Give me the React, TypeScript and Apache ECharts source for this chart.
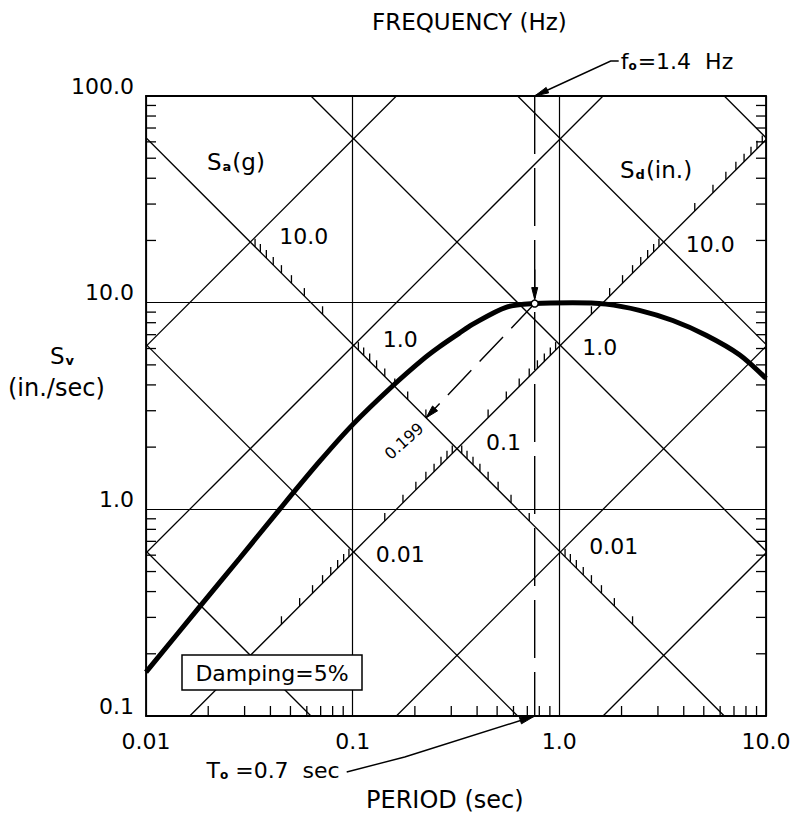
import React, { useEffect, useRef } from "react";
import * as echarts from "echarts";

// ---- axes ----
const T_MIN = 0.01;
const T_MAX = 10;
const SV_MIN = 0.1;
const SV_MAX = 100;
const PERIOD_TICKS = [0.01, 0.1, 1, 10];
const PERIOD_LABELS = ["0.01", "0.1", "1.0", "10.0"];
const SV_TICKS = [0.1, 1, 10, 100];
const SV_LABELS = ["0.1", "1.0", "10.0", "100.0"];
const FRAME_T_DECADES = [0.01, 0.1, 1];
const FRAME_SV_DECADES = [0.1, 1, 10];
const MINOR = [2, 3, 4, 5, 6, 7, 8, 9];

// ---- response spectrum (period sec, Sv in./sec) ----
const CURVE_T = [0.01, 0.0182, 0.0284, 0.0443, 0.069, 0.1, 0.156, 0.218, 0.262, 0.327, 0.38, 0.552, 0.76, 1.16, 1.68, 2.44, 3.54, 5.13, 7.44, 10];
const CURVE_SV = [0.163, 0.338, 0.58, 1.0, 1.7, 2.57, 3.95, 5.3, 6.1, 7.1, 7.85, 9.5, 9.9, 10.0, 9.84, 9.18, 8.2, 6.96, 5.6, 4.3];

// ---- tripartite lines ----
const G = 386.1; // in./sec^2
const SD_LINES = [0.001, 0.01, 0.1, 1, 10, 100]; // in.
const SA_LINES = [10, 1, 0.1, 0.01, 0.001]; // g
const SA_SCALE_SD = 0.1; // Sa scale drawn along this Sd line
const SA_TICK_DECADES = [1, 0.1, 0.01, 0.001];
const SA_LABEL_VALUES = [10, 1, 0.1, 0.01];
const SA_LABEL_TEXT = ["10.0", "1.0", "0.1", "0.01"];
const SD_SCALE_SA = 0.1; // Sd scale drawn along this Sa line
const SD_TICK_DECADES = [0.001, 0.01, 0.1, 1, 10];
const SD_LABEL_VALUES = [0.01, 1, 10];
const SD_LABEL_TEXT = ["0.01", "1.0", "10.0"];

// ---- annotation ----
const T0 = 0.76;
const SV0 = 9.9;
const SA_READ = 0.199;
const SA_READ_TEXT = "0.199";

const F = "'DejaVu Sans', sans-serif";
const INK = "#000";
const TWO_PI = 2 * Math.PI;

const sdSv = (sd: number, t: number) => (TWO_PI * sd) / t;
const saSv = (sa: number, t: number) => (sa * G * t) / TWO_PI;
const crossT = (sd: number, sa: number) => TWO_PI * Math.sqrt(sd / (sa * G));

const fmt = (ticks: number[], labels: string[]) => (v: number) => {
  const i = ticks.findIndex((t) => Math.abs(Math.log10(t) - Math.log10(v)) < 1e-6);
  return i >= 0 ? labels[i] : "";
};

const seg = (a: number[], b: number[], w = 1.2, dash?: number[]) => ({
  type: "line",
  shape: { x1: a[0], y1: a[1], x2: b[0], y2: b[1] },
  style: { stroke: INK, lineWidth: w, fill: null, lineDash: dash },
});

const arrowHead = (tip: number[], from: number[], len = 13, wid = 7) => {
  const dx = tip[0] - from[0];
  const dy = tip[1] - from[1];
  const l = Math.hypot(dx, dy);
  const ux = dx / l;
  const uy = dy / l;
  const bx = tip[0] - ux * len;
  const by = tip[1] - uy * len;
  return {
    type: "polygon",
    shape: {
      points: [
        [tip[0], tip[1]],
        [bx - uy * wid * 0.5, by + ux * wid * 0.5],
        [bx + uy * wid * 0.5, by - ux * wid * 0.5],
      ],
    },
    style: { fill: INK, stroke: INK, lineWidth: 1 },
  };
};

const txt = (x: number, y: number, text: string, size = 22, align = "left", extra: any = {}) => ({
  type: "text",
  x,
  y,
  ...extra,
  style: { text, fill: INK, fontSize: size, fontFamily: F, align, verticalAlign: "middle" },
});

function renderGrid(_params: any, api: any) {
  const P = (t: number, v: number) => api.coord([t, v]);
  const children: any[] = [];
  // constant Sd lines (down-right)
  SD_LINES.forEach((sd) => {
    const t1 = Math.max(T_MIN, (TWO_PI * sd) / SV_MAX);
    const t2 = Math.min(T_MAX, (TWO_PI * sd) / SV_MIN);
    if (t1 < t2) children.push(seg(P(t1, sdSv(sd, t1)), P(t2, sdSv(sd, t2)), 1.3));
  });
  // constant Sa lines (up-right)
  SA_LINES.forEach((sa) => {
    const k = (sa * G) / TWO_PI;
    const t1 = Math.max(T_MIN, SV_MIN / k);
    const t2 = Math.min(T_MAX, SV_MAX / k);
    if (t1 < t2) children.push(seg(P(t1, saSv(sa, t1)), P(t2, saSv(sa, t2)), 1.3));
  });
  // frame ticks
  FRAME_T_DECADES.forEach((b) =>
    MINOR.forEach((m) => {
      const p = P(m * b, SV_MIN);
      children.push(seg(p, [p[0], p[1] - 10], 1.3));
    })
  );
  FRAME_SV_DECADES.forEach((b) =>
    MINOR.forEach((m) => {
      const l = P(T_MIN, m * b);
      const r = P(T_MAX, m * b);
      children.push(seg(l, [l[0] + 10, l[1]], 1.3));
      children.push(seg(r, [r[0] - 10, r[1]], 1.3));
    })
  );
  // Sa scale ticks along Sd line
  SA_TICK_DECADES.forEach((b) =>
    MINOR.forEach((m) => {
      const t = crossT(SA_SCALE_SD, m * b);
      const p = P(t, sdSv(SA_SCALE_SD, t));
      children.push(seg(p, [p[0], p[1] - 8], 1.3));
    })
  );
  // Sd scale ticks along Sa line
  SD_TICK_DECADES.forEach((b) =>
    MINOR.forEach((m) => {
      const t = crossT(m * b, SD_SCALE_SA);
      const p = P(t, saSv(SD_SCALE_SA, t));
      children.push(seg(p, [p[0], p[1] - 8], 1.3));
    })
  );
  // scale labels
  SA_LABEL_VALUES.forEach((sa, i) => {
    const t = crossT(SA_SCALE_SD, sa);
    const p = P(t, sdSv(SA_SCALE_SD, t));
    children.push(txt(p[0] + 29, p[1] - 6, SA_LABEL_TEXT[i]));
  });
  SD_LABEL_VALUES.forEach((sd, i) => {
    const t = crossT(sd, SD_SCALE_SA);
    const p = P(t, saSv(SD_SCALE_SA, t));
    children.push(txt(p[0] + 22, p[1] + 2, SD_LABEL_TEXT[i]));
  });
  return { type: "group", children };
}

function renderNotes(_params: any, api: any) {
  const P = (t: number, v: number) => api.coord([t, v]);
  const children: any[] = [];
  const pt = P(T0, SV0);
  const top = P(T0, SV_MAX);
  const bot = P(T0, SV_MIN);
  // vertical dashed line through the point
  children.push(seg(top, bot, 1.4, [58, 14]));
  children.push(seg([pt[0], pt[1] - 34], [pt[0], pt[1] - 5], 1.4));
  children.push(arrowHead([pt[0], pt[1] - 4], [pt[0], pt[1] - 34], 12, 6));
  // dashed line to the Sa scale
  const rt = crossT(SA_SCALE_SD, SA_READ);
  const rp = P(rt, sdSv(SA_SCALE_SD, rt));
  children.push(seg(pt, rp, 1.4, [34, 12]));
  children.push(arrowHead(rp, pt, 13, 7));
  const ux = rp[0] - pt[0];
  const uy = rp[1] - pt[1];
  const ul = Math.hypot(ux, uy);
  const ang = Math.atan2(uy, -ux); // reading up-right
  children.push(
    txt(rp[0] + (ux / ul) * 32, rp[1] + (uy / ul) * 32, SA_READ_TEXT, 16, "center", {
      rotation: ang * 0.9,
    })
  );
  // f0 leader
  const f1 = [top[0] + 76, top[1] - 35];
  const f2 = [top[0] + 84, top[1] - 35];
  children.push({
    type: "polyline",
    shape: { points: [top, f1, f2] },
    style: { stroke: INK, lineWidth: 1.4, fill: null },
  });
  children.push(arrowHead(top, f1, 14, 6));
  children.push({
    type: "text",
    x: top[0] + 86,
    y: top[1] - 35,
    style: {
      text: "{a|f}{b|o}{a|=1.4  Hz}",
      fill: INK,
      align: "left",
      verticalAlign: "middle",
      rich: {
        a: { fontSize: 22, fontFamily: F, fill: INK },
        b: { fontSize: 12, fontFamily: F, fill: INK, fontWeight: "bold", padding: [10, 1, 0, 0] },
      },
    },
  });
  // T0 leader
  const s1 = [bot[0] - 188, bot[1] + 56];
  const s2 = [bot[0] - 130, bot[1] + 41];
  children.push({
    type: "polyline",
    shape: { points: [s1, s2, bot] },
    style: { stroke: INK, lineWidth: 1.4, fill: null },
  });
  children.push(arrowHead(bot, s2, 15, 7));
  children.push({
    type: "text",
    x: bot[0] - 195,
    y: bot[1] + 54,
    style: {
      text: "{a|T}{b|o}{a| =0.7  sec}",
      fill: INK,
      align: "right",
      verticalAlign: "middle",
      rich: {
        a: { fontSize: 22, fontFamily: F, fill: INK },
        b: { fontSize: 12, fontFamily: F, fill: INK, fontWeight: "bold", padding: [10, 0, 0, 0] },
      },
    },
  });
  // the point
  children.push({
    type: "circle",
    shape: { cx: pt[0], cy: pt[1], r: 3.5 },
    style: { fill: "#fff", stroke: INK, lineWidth: 1.5 },
  });
  return { type: "group", children };
}

const subText = (x: number, y: number, main: string, sub: string, rest: string) => ({
  type: "text",
  left: x,
  top: y,
  z: 20,
  style: {
    text: `{s|${main}}{u|${sub}}{s|${rest}}`,
    fill: INK,
    rich: {
      s: { fontSize: 23, fontFamily: F, fill: INK },
      u: { fontSize: 13, fontFamily: F, fill: INK, fontWeight: "bold", padding: [10, 1, 0, 1] },
    },
  },
});

const axisLineStyle = { show: true, lineStyle: { color: INK, width: 1.8 } };

const option: any = {
  animation: false,
  backgroundColor: "#fff",
  grid: { left: 146, top: 96, width: 620, height: 620 },
  xAxis: [
    {
      type: "log",
      logBase: 10,
      min: T_MIN,
      max: T_MAX,
      position: "bottom",
      axisLine: axisLineStyle,
      axisTick: { show: false },
      minorTick: { show: false },
      splitLine: { show: true, lineStyle: { color: INK, width: 1.2 } },
      axisLabel: { formatter: fmt(PERIOD_TICKS, PERIOD_LABELS), color: INK, fontSize: 22, fontFamily: F, margin: 14 },
    },
    {
      type: "log",
      logBase: 10,
      min: T_MIN,
      max: T_MAX,
      position: "top",
      axisLine: axisLineStyle,
      axisTick: { show: false },
      axisLabel: { show: false },
      splitLine: { show: false },
    },
  ],
  yAxis: [
    {
      type: "log",
      logBase: 10,
      min: SV_MIN,
      max: SV_MAX,
      position: "left",
      axisLine: axisLineStyle,
      axisTick: { show: false },
      minorTick: { show: false },
      splitLine: { show: true, lineStyle: { color: INK, width: 1.2 } },
      axisLabel: {
        formatter: fmt(SV_TICKS, SV_LABELS),
        color: INK,
        fontSize: 22,
        fontFamily: F,
        margin: 12,
        verticalAlign: "bottom",
        lineHeight: 20,
      },
    },
    {
      type: "log",
      logBase: 10,
      min: SV_MIN,
      max: SV_MAX,
      position: "right",
      axisLine: axisLineStyle,
      axisTick: { show: false },
      axisLabel: { show: false },
      splitLine: { show: false },
    },
  ],
  graphic: [
    { type: "text", left: 372, top: 10, z: 20, style: { text: "FREQUENCY (Hz)", fill: INK, fontSize: 23, fontFamily: F } },
    { type: "text", left: 366, top: 788, z: 20, style: { text: "PERIOD (sec)", fill: INK, fontSize: 24, fontFamily: F } },
    subText(50, 344, "S", "v", ""),
    { type: "text", left: 8, top: 376, z: 20, style: { text: "(in./sec)", fill: INK, fontSize: 24, fontFamily: F } },
    subText(207, 150, "S", "a", "(g)"),
    subText(620, 158, "S", "d", "(in.)"),
    {
      type: "rect",
      z: 30,
      shape: { x: 182, y: 655, width: 180, height: 35 },
      style: { fill: "#fff", stroke: INK, lineWidth: 1.5 },
    },
    {
      type: "text",
      z: 31,
      x: 272,
      y: 673,
      style: { text: "Damping=5%", fill: INK, fontSize: 22, fontFamily: F, align: "center", verticalAlign: "middle" },
    },
  ],
  series: [
    {
      type: "custom",
      coordinateSystem: "cartesian2d",
      xAxisIndex: 0,
      yAxisIndex: 0,
      silent: true,
      z: 1,
      data: [[1, 1]],
      renderItem: renderGrid,
    },
    {
      type: "line",
      xAxisIndex: 0,
      yAxisIndex: 0,
      z: 3,
      data: CURVE_T.map((t, i) => [t, CURVE_SV[i]]),
      smooth: 0.3,
      showSymbol: false,
      silent: true,
      lineStyle: { color: INK, width: 5 },
    },
    {
      type: "custom",
      coordinateSystem: "cartesian2d",
      xAxisIndex: 0,
      yAxisIndex: 0,
      silent: true,
      z: 5,
      data: [[1, 1]],
      renderItem: renderNotes,
    },
  ],
};

export default function App() {
  const ref = useRef<HTMLDivElement>(null);
  useEffect(() => {
    if (!ref.current) return;
    const chart = echarts.init(ref.current, null, { renderer: "svg" });
    chart.setOption(option);
    return () => chart.dispose();
  }, []);
  return (
    <div
      ref={ref}
      style={{ position: "fixed", left: 0, top: 0, width: 797, height: 818, background: "#fff" }}
    />
  );
}
